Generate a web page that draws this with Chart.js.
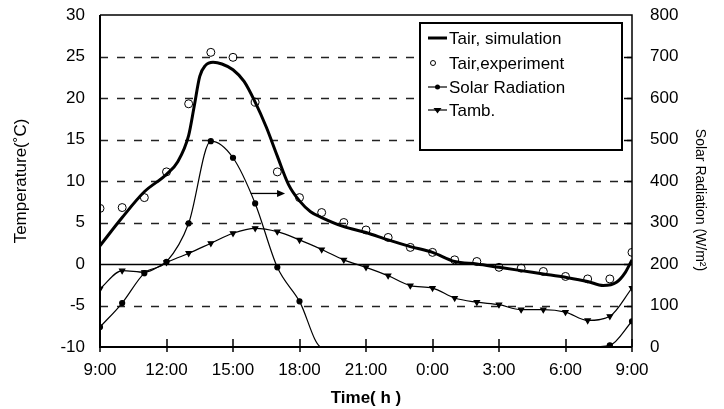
<!DOCTYPE html>
<html>
<head>
<meta charset="utf-8">
<script src="https://cdn.jsdelivr.net/npm/chart.js@4.4.1/dist/chart.umd.min.js"></script>
<style>
  html, body { margin: 0; padding: 0; background: #fff; }
  #wrap { width: 724px; height: 409px; }
</style>
</head>
<body>
<div id="wrap"><canvas id="chart"></canvas></div>
<script>
// Hourly readings, x = hours after 9:00 (0..24).
const hours = [0, 1, 2, 3, 4, 5, 6, 7, 8, 9, 10, 11, 12, 13, 14, 15, 16, 17, 18, 19, 20, 21, 22, 23, 24];
const tickLabels = ['9:00', '12:00', '15:00', '18:00', '21:00', '0:00', '3:00', '6:00', '9:00'];

// Tair, experiment (°C)
const tairExp = [6.7, 6.8, 8.0, 11.1, 19.3, 25.5, 24.9, 19.5, 11.1, 8.0, 6.2, 5.0, 4.1, 3.2, 2.0, 1.4, 0.5, 0.3, -0.4, -0.5, -0.9, -1.5, -1.8, -1.8, 1.4];
// Solar radiation (W/m2), right axis
const solar = [48, 106, 178, 205, 298, 496, 456, 346, 192, 110, 0, 0, 0, 0, 0, 0, 0, 0, 0, 0, 0, 0, 0, 4, 62];
// Tamb (°C)
const tamb = [-3.0, -0.8, -1.0, 0.2, 1.3, 2.5, 3.7, 4.3, 3.9, 2.9, 1.75, 0.5, -0.4, -1.4, -2.6, -2.9, -4.1, -4.6, -4.9, -5.5, -5.5, -5.8, -6.8, -6.3, -2.9];

// Tair, simulation (°C)
const simHours = [0, 1, 2, 3, 3.5, 4, 4.25, 4.5, 4.75, 5.1, 5.5, 6, 6.5, 7, 7.5, 8, 8.5, 9, 9.5, 10, 11, 12, 13, 14, 15, 16, 17, 18, 19, 20, 21, 22, 22.7, 23.3, 23.7, 24];
const tairSim = [2.2, 5.6, 8.7, 10.8, 12.3, 15.5, 19.0, 22.6, 23.9, 24.3, 24.1, 23.4, 22.0, 19.5, 16.5, 13.0, 9.6, 7.6, 6.3, 5.6, 4.5, 3.8, 2.9, 2.1, 1.4, 0.3, 0.0, -0.4, -0.8, -1.2, -1.6, -2.1, -2.6, -2.2, -1.0, 0.5];

// annotation arrow (hours, °C)
const arrowFrom = [6.8, 8.5];
const arrowTo = [8.35, 8.5];

const FONT = 'Arial, "Liberation Sans", sans-serif';
const pts = (xs, ys) => xs.map((x, i) => ({ x, y: ys[i] }));

// invisible tick marks give the label gap without padding the chart top
const gapGrid = (len) => ({ display: true, drawOnChartArea: false, drawTicks: true, tickLength: len, tickColor: 'rgba(0,0,0,0)' });

const framePlugin = {
  id: 'frame',
  beforeDatasetsDraw(chart) {
    const { ctx, chartArea: a, scales } = chart;
    const y = scales.y;
    ctx.save();
    for (let v = -5; v <= 25; v += 5) {
      const py = Math.round(y.getPixelForValue(v)) + 0.5;
      ctx.beginPath();
      if (v === 0) { ctx.setLineDash([]); ctx.lineWidth = 1.6; ctx.strokeStyle = '#000'; }
      else { ctx.setLineDash([8, 9]); ctx.lineWidth = 1.5; ctx.strokeStyle = '#222'; }
      ctx.moveTo(a.left, py);
      ctx.lineTo(a.right, py);
      ctx.stroke();
    }
    ctx.restore();
  },
  afterDatasetsDraw(chart) {
    const { ctx, chartArea: a, scales } = chart;
    const x = scales.x, y = scales.y, y2 = scales.y2;
    ctx.save();
    ctx.strokeStyle = '#000';
    ctx.fillStyle = '#000';

    // arrow
    const ax0 = x.getPixelForValue(arrowFrom[0]), ay = y.getPixelForValue(arrowFrom[1]);
    const ax1 = x.getPixelForValue(arrowTo[0]);
    ctx.lineWidth = 1.3;
    ctx.beginPath(); ctx.moveTo(ax0, ay); ctx.lineTo(ax1 - 4, ay); ctx.stroke();
    ctx.beginPath(); ctx.moveTo(ax1, ay); ctx.lineTo(ax1 - 8, ay - 3.5); ctx.lineTo(ax1 - 8, ay + 3.5); ctx.closePath(); ctx.fill();

    // frame
    ctx.lineWidth = 2;
    ctx.beginPath();
    ctx.moveTo(a.left, a.top); ctx.lineTo(a.left, a.bottom); ctx.lineTo(a.right, a.bottom);
    ctx.stroke();
    ctx.lineWidth = 1.5;
    ctx.beginPath();
    ctx.moveTo(a.left, a.top); ctx.lineTo(a.right, a.top); ctx.lineTo(a.right, a.bottom);
    ctx.stroke();

    // x ticks crossing the axis
    for (let h = 0; h <= 24; h += 3) {
      const px = Math.round(x.getPixelForValue(h));
      ctx.beginPath(); ctx.moveTo(px, a.bottom - 8); ctx.lineTo(px, a.bottom + 5); ctx.stroke();
    }
    // inward ticks on the right axis
    for (let v = 100; v < 800; v += 100) {
      const py = Math.round(y2.getPixelForValue(v)) + 0.5;
      ctx.beginPath(); ctx.moveTo(a.right - 8, py); ctx.lineTo(a.right, py); ctx.stroke();
    }

    // legend box
    const lx = 420, ly = 23, lw = 202, lh = 127;
    ctx.fillStyle = '#fff';
    ctx.fillRect(lx, ly, lw, lh);
    ctx.lineWidth = 2;
    ctx.strokeRect(lx, ly, lw, lh);
    ctx.fillStyle = '#000';
    ctx.font = '17px ' + FONT;
    ctx.textBaseline = 'middle';
    const rows = [38, 63, 87, 110];
    chart.data.datasets.forEach((ds, i) => {
      const ry = rows[i];
      const sx = lx + 8, ex = lx + 27, mx = (sx + ex) / 2;
      if (ds.showLine !== false) {
        ctx.lineWidth = ds.borderWidth;
        ctx.beginPath(); ctx.moveTo(sx, ry); ctx.lineTo(ex, ry); ctx.stroke();
      }
      if (ds.pointStyle === 'circle' && ds.showLine === false) {
        ctx.lineWidth = 1; ctx.beginPath(); ctx.arc(sx + 5, ry, 2.5, 0, Math.PI * 2); ctx.stroke();
      } else if (ds.pointStyle === 'circle') {
        ctx.beginPath(); ctx.arc(mx, ry, 2.5, 0, Math.PI * 2); ctx.fill();
      } else if (ds.pointStyle === 'triangle') {
        ctx.beginPath(); ctx.moveTo(mx - 4, ry - 2); ctx.lineTo(mx + 4, ry - 2); ctx.lineTo(mx, ry + 3.5); ctx.closePath(); ctx.fill();
      }
      ctx.fillText(ds.label, lx + 29, ry + 1);
    });

    // right axis title, read top to bottom
    ctx.save();
    ctx.translate(700, 200);
    ctx.rotate(Math.PI / 2);
    ctx.textAlign = 'center';
    ctx.font = '14px ' + FONT;
    ctx.fillText(y2.options.title.text, 0, 0);
    ctx.restore();
    ctx.restore();
  },
};

new Chart(document.getElementById('chart'), {
  type: 'line',
  data: {
    datasets: [
      {
        label: 'Tair, simulation', data: pts(simHours, tairSim), yAxisID: 'y',
        borderColor: '#000', borderWidth: 3, pointRadius: 0, cubicInterpolationMode: 'monotone',
      },
      {
        label: 'Tair,experiment', data: pts(hours, tairExp), yAxisID: 'y', showLine: false,
        pointStyle: 'circle', pointRadius: 4, borderColor: '#000', borderWidth: 1,
        pointBackgroundColor: 'rgba(255,255,255,0)',
      },
      {
        label: 'Solar Radiation', data: pts(hours, solar), yAxisID: 'y2',
        borderColor: '#000', borderWidth: 1.2, cubicInterpolationMode: 'monotone',
        pointStyle: 'circle', pointBackgroundColor: '#000',
        pointRadius: (c) => (c.raw && c.raw.y === 0 ? 0 : 2.5),
      },
      {
        label: 'Tamb.', data: pts(hours, tamb), yAxisID: 'y',
        borderColor: '#000', borderWidth: 1.2, cubicInterpolationMode: 'monotone',
        pointStyle: 'triangle', pointRotation: 180, pointRadius: 3, pointBackgroundColor: '#000',
      },
    ],
  },
  options: {
    responsive: true, maintainAspectRatio: false, animation: false,
    layout: { padding: { top: 15, left: 0, right: 0, bottom: 0 } },
    plugins: { legend: { display: false }, tooltip: { enabled: false } },
    scales: {
      x: {
        type: 'linear', min: 0, max: 24,
        afterBuildTicks: (s) => { s.ticks = hours.filter((h) => h % 3 === 0).map((v) => ({ value: v })); },
        afterFit: (s) => { s.height = 62; },
        grid: { display: false, drawTicks: false }, border: { display: false },
        ticks: {
          color: '#000', padding: 13, maxRotation: 0, autoSkip: false,
          font: { family: FONT, size: 17 },
          callback: (v) => tickLabels[v / 3],
        },
        title: { display: true, text: 'Time( h )', color: '#000', font: { family: FONT, size: 17, weight: 'bold' }, padding: { top: 0, bottom: 0 } },
      },
      y: {
        position: 'left', min: -10, max: 30,
        afterFit: (s) => { s.width = 100; },
        grid: gapGrid(15), border: { display: false },
        ticks: { stepSize: 5, color: '#000', padding: 0, font: { family: FONT, size: 17 } },
        title: { display: true, text: 'Temperature(˚C)', color: '#000', font: { family: FONT, size: 17 }, padding: { top: 11, bottom: 0 } },
      },
      y2: {
        position: 'right', min: 0, max: 800,
        afterFit: (s) => { s.width = 92; },
        grid: gapGrid(18), border: { display: false },
        ticks: { stepSize: 100, color: '#000', padding: 0, font: { family: FONT, size: 17 } },
        title: { display: false, text: 'Solar Radiation (W/m²)' },
      },
    },
  },
  plugins: [framePlugin],
});
</script>
</body>
</html>
